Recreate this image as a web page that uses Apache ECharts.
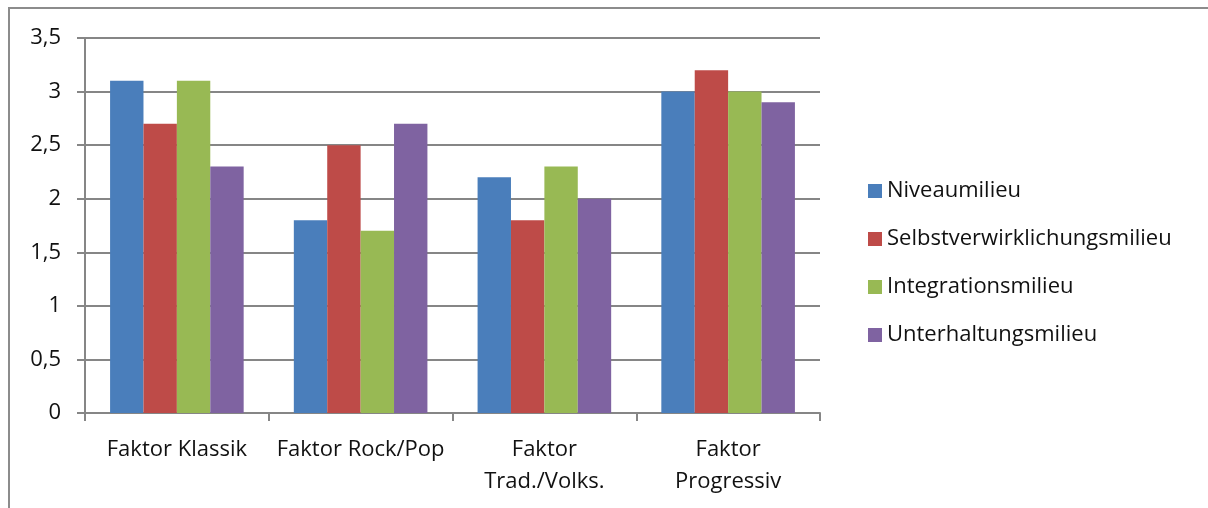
<!DOCTYPE html>
<html>
<head>
<meta charset="utf-8">
<script src="https://cdn.jsdelivr.net/npm/echarts@6/dist/echarts.min.js"></script>
<style>
  html, body { margin: 0; padding: 0; background: #fff; }
  #chart { width: 1208px; height: 508px; }
</style>
</head>
<body>
<div id="chart"></div>
<script>
// Music factor scores per social milieu
const categories = ['Faktor Klassik', 'Faktor Rock/Pop', 'Faktor\nTrad./Volks.', 'Faktor\nProgressiv'];
const seriesNames = ['Niveaumilieu', 'Selbstverwirklichungsmilieu', 'Integrationsmilieu', 'Unterhaltungsmilieu'];
const niveau = [3.1, 1.8, 2.2, 3.0];
const selbst = [2.7, 2.5, 1.8, 3.2];
const integration = [3.1, 1.7, 2.3, 3.0];
const unterhaltung = [2.3, 2.7, 2.0, 2.9];
const colors = ['#4A7EBB', '#BE4B48', '#98B954', '#7F63A1'];

const values = [niveau, selbst, integration, unterhaltung];
const fontFamily = 'Open Sans, Noto Sans, sans-serif';
const gridColor = '#868686';
const textColor = '#111';

const chart = echarts.init(document.getElementById('chart'));
chart.setOption({
  animation: false,
  textStyle: { fontFamily: fontFamily },
  color: colors,
  graphic: [{
    type: 'rect',
    shape: { x: 9, y: 8, width: 1220, height: 520 },
    style: { fill: 'none', stroke: '#8c8c8c', lineWidth: 2 },
    silent: true
  }],
  grid: { left: 85, top: 38, right: 388, bottom: 95 },
  legend: {
    orient: 'vertical',
    left: 863,
    top: 175,
    itemWidth: 14,
    itemHeight: 14,
    itemGap: 26,
    icon: 'rect',
    textStyle: { fontSize: 22, color: textColor, fontFamily: fontFamily },
    data: seriesNames
  },
  xAxis: {
    type: 'category',
    data: categories,
    axisLine: { lineStyle: { color: gridColor, width: 2 } },
    axisTick: { show: true, length: 8, lineStyle: { color: gridColor, width: 2 } },
    axisLabel: { fontSize: 22, color: textColor, margin: 21, lineHeight: 32, interval: 0 }
  },
  yAxis: {
    type: 'value',
    min: 0,
    max: 3.5,
    interval: 0.5,
    axisLine: { show: true, lineStyle: { color: gridColor, width: 2 } },
    axisTick: { show: true, length: 8, lineStyle: { color: gridColor, width: 2 } },
    splitLine: { lineStyle: { color: gridColor, width: 2 } },
    axisLabel: {
      fontSize: 22,
      color: textColor,
      margin: 24,
      formatter: v => String(v).replace('.', ',')
    }
  },
  series: seriesNames.map((name, i) => ({
    name: name,
    type: 'bar',
    data: values[i],
    barGap: '0%',
    barCategoryGap: '27.3%',
    itemStyle: { color: colors[i] }
  }))
});
</script>
</body>
</html>
